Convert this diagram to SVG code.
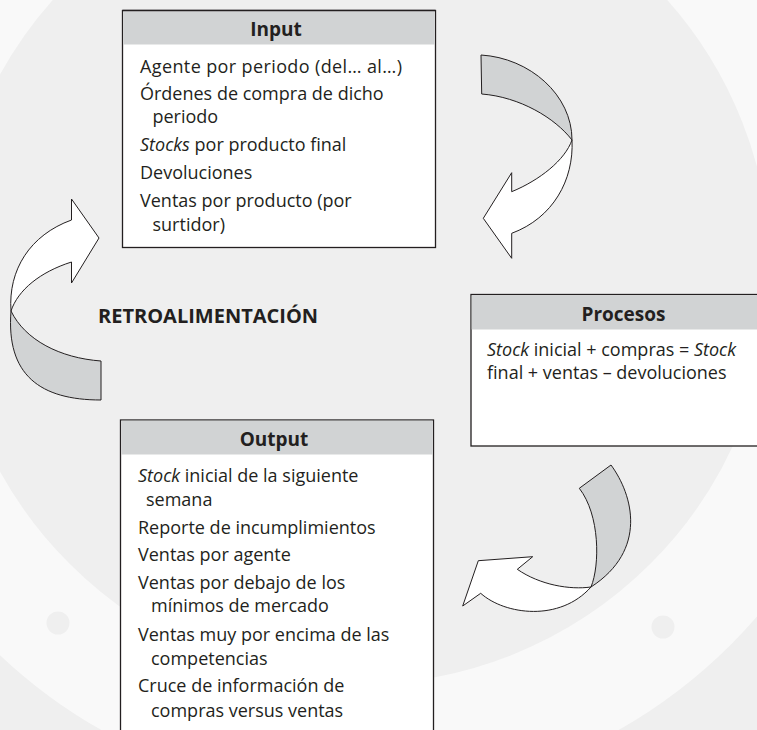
<svg xmlns="http://www.w3.org/2000/svg" width="757" height="730" viewBox="0 0 757 730">
  <style>
    .bg { fill: #efefef; }
    .seal { fill: none; stroke: #f9f9f9; stroke-width: 114; }
    .dot { fill: #efefef; }
    .box { fill: #ffffff; stroke: #231f20; stroke-width: 1.3; }
    .head { fill: #d1d3d4; }
    .title { font-family: "Open Sans", "Noto Sans", "Liberation Sans", sans-serif; font-weight: bold; font-size: 19px; fill: #231f20; text-anchor: middle; }
    .txt { font-family: "Open Sans", "Noto Sans", "Liberation Sans", sans-serif; font-size: 18px; fill: #231f20; }
    .it { font-style: italic; }
    .retro { font-family: "Open Sans", "Noto Sans", "Liberation Sans", sans-serif; font-weight: bold; font-size: 20px; fill: #231f20; }
    .back { fill: #d1d3d4; stroke: #231f20; stroke-width: 1; stroke-linejoin: round; }
    .front { fill: #ffffff; stroke: #231f20; stroke-width: 1; stroke-linejoin: miter; }
  </style>

  <!-- page background with faint seal ring -->
  <rect class="bg" x="0" y="0" width="757" height="730"/>
  <circle class="seal" cx="360" cy="273" r="468"/>
  <circle class="dot" cx="58" cy="623" r="11.5"/>
  <circle class="dot" cx="663" cy="627" r="11.5"/>

  <!-- Input -->
  <g id="input">
    <rect class="box" x="122.5" y="10.5" width="313" height="237"/>
    <rect class="head" x="123.2" y="11.2" width="311.6" height="33.3"/>
    <line x1="122.5" y1="10.5" x2="435.5" y2="10.5" stroke="#231f20" stroke-width="1.3"/>
    <text class="title" x="276" y="36">Input</text>
    <text class="txt" x="140" y="73" textLength="262" lengthAdjust="spacing">Agente por periodo (del… al…)</text>
    <text class="txt" x="140" y="100">Órdenes de compra de dicho</text>
    <text class="txt" x="152.5" y="123">periodo</text>
    <text class="txt" x="140" y="151"><tspan class="it">Stocks</tspan> por producto final</text>
    <text class="txt" x="140" y="179">Devoluciones</text>
    <text class="txt" x="140" y="207">Ventas por producto (por</text>
    <text class="txt" x="152.5" y="231">surtidor)</text>
  </g>

  <!-- Procesos -->
  <g id="procesos">
    <rect class="box" x="471" y="294.5" width="300" height="151.5"/>
    <rect class="head" x="471.7" y="295.2" width="290" height="34.3"/>
    <text class="title" x="623.5" y="321">Procesos</text>
    <text class="txt" x="487" y="356"><tspan class="it">Stock</tspan> inicial + compras = <tspan class="it">Stock</tspan></text>
    <text class="txt" x="487" y="379">final + ventas – devoluciones</text>
  </g>

  <!-- Output -->
  <g id="output">
    <rect class="box" x="120.5" y="420" width="313" height="330"/>
    <rect class="head" x="121.2" y="420.7" width="311.6" height="33.8"/>
    <text class="title" x="274" y="446">Output</text>
    <text class="txt" x="138" y="482"><tspan class="it">Stock</tspan> inicial de la siguiente</text>
    <text class="txt" x="146" y="506">semana</text>
    <text class="txt" x="138" y="534">Reporte de incumplimientos</text>
    <text class="txt" x="138" y="561">Ventas por agente</text>
    <text class="txt" x="138" y="589">Ventas por debajo de los</text>
    <text class="txt" x="151" y="612">mínimos de mercado</text>
    <text class="txt" x="138" y="641">Ventas muy por encima de las</text>
    <text class="txt" x="151" y="665">competencias</text>
    <text class="txt" x="138" y="692">Cruce de información de</text>
    <text class="txt" x="151" y="717">compras versus ventas</text>
  </g>

  <!-- feedback label -->
  <g id="retroalimentacion">
    <text class="retro" x="98" y="323">RETROALIMENTACIÓN</text>
  </g>

  <!-- curved ribbon arrows between the stages -->
  <g id="connectors">
    <!-- Input to Procesos -->
    <g id="arrow-input-procesos">
      <path class="back" d="M481,55 C530,58 572,95 572,140 C555,118 520,97 481.7,94 Z"/>
      <path class="front" d="M572,140 C574,180 553,218 511.7,233.3 L511.7,258.3 L483.3,218.3 L511.7,172.7 L511.7,191.7 C540,180 565,160 572,140 Z"/>
    </g>
    <!-- Procesos to Output -->
    <g id="arrow-procesos-output">
      <path class="back" d="M611,465 C633,495 648,550 591,587 C600,565 600,515 579.3,488.3 Z"/>
      <path class="front" d="M591,587 C570,590 540,585 517.3,569.3 L532.7,556.7 L478.3,560.7 L462.7,606 L480.7,593.3 C505,615 560,622 591,587 Z"/>
    </g>
    <!-- Output back to Input (feedback) -->
    <g id="arrow-output-input">
      <path class="back" d="M11,311 C6,375 40,400 101,400 L101,361 C60,358 25,340 11,311 Z"/>
      <path class="front" d="M11,311 C8,270 30,235 71.5,220 L71.5,199 L99,238 L71.5,283 L71.5,262 C40,272 18,290 11,311 Z"/>
    </g>
  </g>
</svg>
